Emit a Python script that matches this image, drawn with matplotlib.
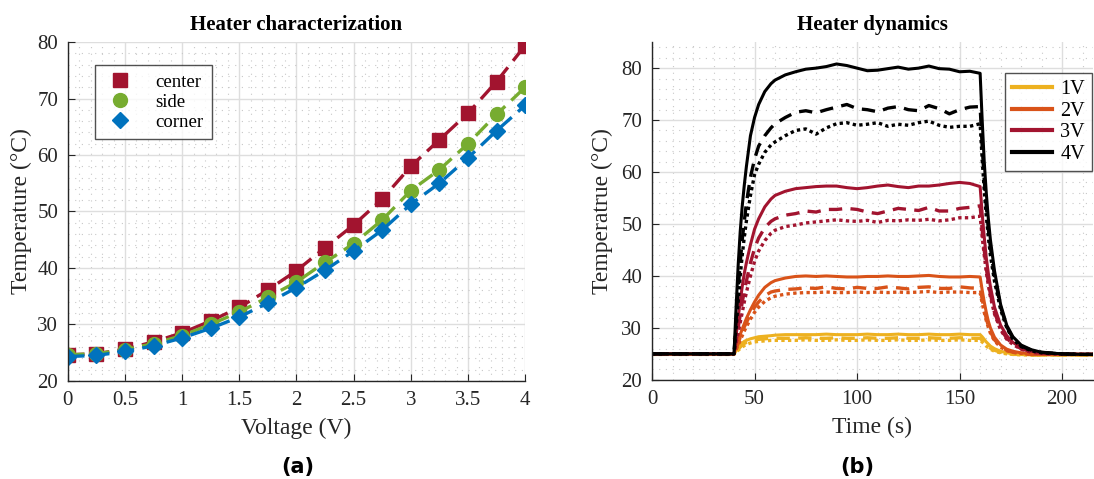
import numpy as np
import matplotlib
matplotlib.use('Agg')
import matplotlib.pyplot as plt
from matplotlib.ticker import MultipleLocator

plt.rcParams['font.family'] = ['Liberation Serif', 'DejaVu Serif']

# --- (a) heater characterization ---
voltage = [0, 0.25, 0.5, 0.75, 1, 1.25, 1.5, 1.75, 2, 2.25, 2.5, 2.75, 3, 3.25, 3.5, 3.75, 4]
temp_center = [24.6, 24.8, 25.6, 26.9, 28.5, 30.6, 33.0, 36.1, 39.5, 43.6, 47.6, 52.2, 58.0, 62.7, 67.4, 73.0, 79.4]
temp_side = [24.6, 24.8, 25.5, 26.6, 28.0, 30.0, 32.2, 34.8, 37.5, 41.0, 44.3, 48.5, 53.7, 57.4, 62.0, 67.2, 72.0]
temp_corner = [24.3, 24.5, 25.2, 26.2, 27.6, 29.3, 31.3, 33.8, 36.5, 39.6, 43.0, 46.7, 51.3, 55.0, 59.5, 64.3, 68.8]
v_ticks = ['0', '0.5', '1', '1.5', '2', '2.5', '3', '3.5', '4']

# --- (b) heater dynamics ---
t_dyn = [0, 40,
         41, 42, 43, 44, 45, 46,
         48, 50, 52, 55, 58, 60, 65,
         70, 75, 80, 85, 90, 95, 100, 105, 110, 115, 120, 125, 130, 135, 140, 145, 150, 155, 160,
         161, 162, 163, 164, 165, 167,
         170, 173, 176, 180, 185, 190,
         200, 210, 220]

v4_solid = [25.0, 25.0,
            34.0, 42.0, 48.5, 53.5, 57.5, 61.0,
            67.0, 70.5, 73.0, 75.5, 77.0, 77.7, 78.7,
            79.3, 79.8, 80.0, 80.3, 80.8, 80.5, 80.0, 79.5, 79.6, 79.9, 80.2, 79.8, 80.0, 80.4, 79.9, 79.8, 79.3, 79.4, 79.0,
            70.0, 62.0, 56.0, 51.0, 47.0, 41.0,
            34.5, 30.5, 28.3, 26.7, 25.8, 25.3,
            25.0, 24.9, 24.9]
v4_dash = [25.0, 25.0,
           31.5, 37.5, 42.5, 47.0, 50.5, 54.0,
           59.0, 62.5, 65.0, 67.0, 68.5, 69.3, 70.5,
           71.5, 71.8, 71.4, 72.0, 72.5, 73.0, 72.2, 72.0, 71.6, 72.3, 72.6, 72.0, 71.8, 72.8, 72.2, 71.2, 72.0, 72.5, 72.6,
           65.0, 58.5, 53.5, 49.0, 45.5, 40.0,
           34.0, 30.2, 28.0, 26.5, 25.7, 25.3,
           25.0, 24.9, 24.9]
v4_dot = [25.0, 25.0,
          30.0, 35.0, 40.0, 44.0, 47.5, 50.5,
          55.5, 59.5, 61.5, 63.8, 65.2, 65.8, 67.0,
          68.0, 68.3, 67.3, 68.5, 69.3, 69.5, 69.0, 69.2, 69.5, 68.8, 69.2, 69.0, 69.5, 69.8, 69.0, 68.6, 68.8, 68.8, 69.3,
          62.5, 56.5, 51.5, 47.5, 44.0, 39.0,
          33.5, 30.0, 27.8, 26.4, 25.6, 25.2,
          25.0, 24.9, 24.9]

v3_solid = [25.0, 25.0,
            28.5, 32.0, 35.0, 38.0, 40.5, 42.5,
            46.0, 49.0, 51.0, 53.3, 54.8, 55.5, 56.3,
            56.8, 57.0, 57.2, 57.3, 57.3, 57.0, 56.8, 57.0, 57.3, 57.5, 57.2, 57.0, 57.3, 57.3, 57.5, 57.8, 58.0, 57.8, 57.2,
            52.0, 47.5, 43.5, 40.5, 38.0, 34.0,
            30.5, 28.5, 27.2, 26.2, 25.5, 25.2,
            25.0, 24.9, 24.9]
v3_dash = [25.0, 25.0,
           27.5, 30.0, 32.5, 35.0, 37.0, 39.0,
           42.5, 45.3, 47.3, 49.3, 50.5, 51.0, 51.7,
           52.0, 52.5, 52.3, 52.8, 52.8, 53.0, 52.8, 52.3, 52.0, 52.5, 53.0, 52.8, 52.6, 53.2, 52.5, 52.5, 53.0, 53.2, 53.5,
           49.0, 45.0, 41.5, 38.8, 36.5, 33.0,
           29.8, 28.0, 26.9, 26.0, 25.4, 25.1,
           24.9, 24.9, 24.9]
v3_dot = [25.0, 25.0,
          27.0, 29.0, 31.0, 33.0, 35.0, 36.8,
          40.0, 42.8, 44.8, 46.8, 48.2, 48.8, 49.5,
          49.8, 50.2, 50.4, 50.6, 50.8, 50.6, 50.5, 50.7, 50.3, 50.7, 50.6, 50.8, 50.7, 50.9, 50.6, 50.8, 51.2, 51.2, 51.5,
          47.5, 44.0, 40.8, 38.2, 36.0, 32.7,
          29.6, 27.8, 26.8, 25.9, 25.3, 25.1,
          24.9, 24.9, 24.9]

v2_solid = [25.0, 25.0,
            26.3, 27.5, 28.7, 29.8, 30.8, 31.8,
            33.5, 35.0, 36.3, 37.8, 38.7, 39.1, 39.6,
            39.9, 40.0, 39.9, 40.0, 39.9, 39.8, 39.8, 39.9, 39.9, 40.0, 39.9, 39.9, 40.0, 40.1, 39.9, 39.8, 39.8, 39.9, 39.8,
            37.3, 35.0, 33.0, 31.3, 30.0, 28.2,
            26.7, 25.9, 25.5, 25.2, 25.0, 24.9,
            24.9, 24.9, 24.9]
v2_dash = [25.0, 25.0,
           26.0, 27.0, 28.2, 29.2, 30.2, 31.0,
           32.6, 34.0, 35.0, 36.2, 36.9, 37.1, 37.4,
           37.5, 37.7, 37.6, 37.9, 37.6, 37.5, 37.8, 37.6, 37.6, 37.9, 37.7, 37.5, 37.8, 37.9, 37.6, 37.6, 37.9, 37.7, 37.6,
           35.5, 33.5, 31.8, 30.4, 29.3, 27.7,
           26.4, 25.7, 25.3, 25.1, 24.9, 24.9,
           24.9, 24.9, 24.9]
v2_dot = [25.0, 25.0,
          25.8, 26.7, 27.6, 28.5, 29.4, 30.2,
          31.7, 33.0, 34.0, 35.1, 35.8, 36.1, 36.5,
          36.7, 36.8, 36.8, 36.9, 36.8, 36.8, 36.9, 36.8, 36.9, 36.8, 36.9, 36.8, 36.9, 37.0, 36.8, 36.9, 36.9, 36.8, 36.8,
          34.8, 33.0, 31.4, 30.1, 29.0, 27.5,
          26.3, 25.6, 25.3, 25.1, 24.9, 24.9,
          24.9, 24.9, 24.9]

v1_solid = [24.9, 24.9,
            25.6, 26.2, 26.7, 27.1, 27.4, 27.6,
            27.9, 28.1, 28.3, 28.4, 28.5, 28.6, 28.7,
            28.7, 28.7, 28.7, 28.8, 28.7, 28.7, 28.7, 28.8, 28.7, 28.7, 28.8, 28.7, 28.7, 28.8, 28.7, 28.7, 28.8, 28.7, 28.7,
            28.3, 27.8, 27.3, 26.9, 26.5, 26.0,
            25.5, 25.2, 25.0, 24.9, 24.8, 24.8,
            24.8, 24.8, 24.8]
v1_dash = [24.9, 24.9,
           25.4, 25.9, 26.3, 26.7, 27.0, 27.2,
           27.5, 27.7, 27.8, 27.9, 28.0, 28.0, 28.0,
           28.0, 28.1, 28.0, 28.0, 28.1, 28.0, 28.0, 28.1, 28.0, 28.0, 28.1, 28.0, 28.0, 28.1, 28.0, 28.0, 28.1, 28.0, 28.0,
           27.6, 27.2, 26.8, 26.4, 26.1, 25.7,
           25.3, 25.1, 24.9, 24.9, 24.8, 24.8,
           24.8, 24.8, 24.8]
v1_dot = [24.9, 24.9,
          25.3, 25.7, 26.0, 26.3, 26.6, 26.8,
          27.1, 27.3, 27.4, 27.5, 27.6, 27.6, 27.6,
          27.6, 27.7, 27.6, 27.6, 27.7, 27.6, 27.6, 27.7, 27.6, 27.6, 27.7, 27.6, 27.6, 27.7, 27.6, 27.6, 27.7, 27.6, 27.6,
          27.3, 26.9, 26.5, 26.2, 25.9, 25.5,
          25.2, 25.0, 24.9, 24.8, 24.8, 24.8,
          24.8, 24.8, 24.8]

levels = ['1V', '2V', '3V', '4V']
level_colors = ['#EDB120', '#D95319', '#A2142F', '#000000']

text_color = '#262626'


def style_axes(ax):
    for side in ['top', 'right']:
        ax.spines[side].set_visible(False)
    for side in ['left', 'bottom']:
        ax.spines[side].set_color(text_color)
        ax.spines[side].set_linewidth(1.0)
    ax.grid(which='major', color='#dedede', linewidth=1.0, linestyle='-')
    ax.grid(which='minor', color='#c8c8c8', linewidth=0.8, linestyle=(0, (1, 5)))
    ax.set_axisbelow(True)
    ax.tick_params(which='both', direction='in', colors=text_color, labelsize=15)
    ax.tick_params(which='major', length=5, pad=7)
    ax.tick_params(which='minor', length=0)


fig = plt.figure(figsize=(10.94, 4.79), dpi=100)

# left panel
ax1 = fig.add_axes([0.062, 0.205, 0.418, 0.707])
ax1.plot(voltage, temp_center, color='#A2142F', linestyle=(0, (5, 2.5)), linewidth=2.4,
         marker='s', markersize=10, label='center')
ax1.plot(voltage, temp_side, color='#77AC30', linestyle=(0, (5, 2.5)), linewidth=2.4,
         marker='o', markersize=10, label='side')
ax1.plot(voltage, temp_corner, color='#0072BD', linestyle=(0, (5, 2.5)), linewidth=2.4,
         marker='D', markersize=8.5, label='corner')
ax1.set_xlim(0, 4)
ax1.set_ylim(20, 80)
ax1.set_xticks([0, 0.5, 1, 1.5, 2, 2.5, 3, 3.5, 4])
ax1.set_xticklabels(v_ticks)
ax1.xaxis.set_minor_locator(MultipleLocator(0.1))
ax1.yaxis.set_major_locator(MultipleLocator(10))
ax1.yaxis.set_minor_locator(MultipleLocator(2))
style_axes(ax1)
ax1.set_xlabel('Voltage (V)', fontsize=17, color=text_color, labelpad=6)
ax1.set_ylabel('Temperature (°C)', fontsize=17, color=text_color, labelpad=4)
ax1.set_title('Heater characterization', fontsize=15, fontweight='bold', pad=9)
handles, labels = ax1.get_legend_handles_labels()
leg1 = ax1.legend(handles=[plt.Line2D([], [], color=h.get_color(), marker=h.get_marker(),
                                      markersize=h.get_markersize(), linestyle='None') for h in handles],
                  labels=labels, loc='upper left', bbox_to_anchor=(0.059, 0.932), fontsize=13.5,
                  frameon=True, fancybox=False, edgecolor=text_color, handletextpad=1.0,
                  borderpad=0.45, labelspacing=0.15, handlelength=1.8, borderaxespad=0)
leg1.get_frame().set_linewidth(1.0)

# right panel
ax2 = fig.add_axes([0.596, 0.207, 0.403, 0.705])
solids = [v1_solid, v2_solid, v3_solid, v4_solid]
dashes = [v1_dash, v2_dash, v3_dash, v4_dash]
dots = [v1_dot, v2_dot, v3_dot, v4_dot]
for lvl, col, s, d, o in zip(levels, level_colors, solids, dashes, dots):
    ax2.plot(t_dyn, o, color=col, linestyle=(0, (1, 1)), linewidth=2.4)
    ax2.plot(t_dyn, d, color=col, linestyle=(0, (4, 2.5)), linewidth=2.4)
    ax2.plot(t_dyn, s, color=col, linestyle='-', linewidth=2.2, label=lvl)
ax2.set_xlim(0, 215)
ax2.set_ylim(20, 85)
ax2.xaxis.set_major_locator(MultipleLocator(50))
ax2.xaxis.set_minor_locator(MultipleLocator(10))
ax2.yaxis.set_major_locator(MultipleLocator(10))
ax2.yaxis.set_minor_locator(MultipleLocator(2))
style_axes(ax2)
ax2.set_xlabel('Time (s)', fontsize=17, color=text_color, labelpad=6)
ax2.set_ylabel('Temperatrue (°C)', fontsize=17, color=text_color, labelpad=6)
ax2.set_title('Heater dynamics', fontsize=15, fontweight='bold', pad=9)
leg2 = ax2.legend(loc='upper right', bbox_to_anchor=(0.998, 0.908), fontsize=14.5, frameon=True,
                  fancybox=False, edgecolor=text_color, handlelength=2.0, borderpad=0.35,
                  labelspacing=0.12, handletextpad=0.4, borderaxespad=0)
leg2.get_frame().set_linewidth(1.0)
for line in leg2.get_lines():
    line.set_linewidth(3)

fig.text(0.272, 0.026, '(a)', ha='center', va='center', fontsize=15, fontweight='bold',
         family=['DejaVu Sans'])
fig.text(0.784, 0.026, '(b)', ha='center', va='center', fontsize=15, fontweight='bold',
         family=['DejaVu Sans'])

fig.savefig('out.png', dpi=100)
